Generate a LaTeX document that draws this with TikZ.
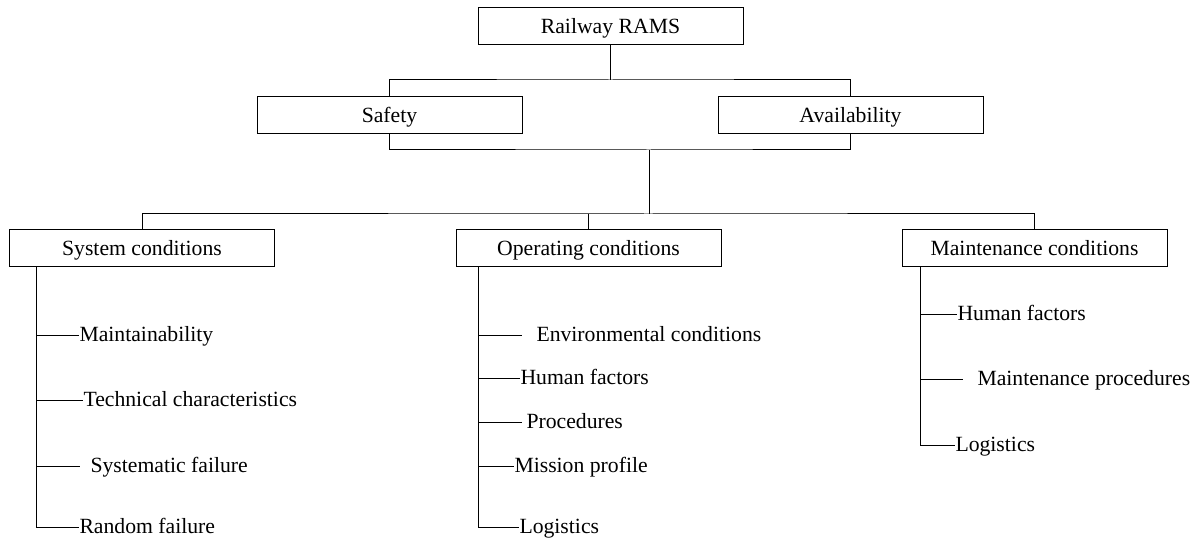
\documentclass[tikz,border=0pt]{standalone}
\usepackage{fontspec}
\setmainfont{Liberation Serif}
\usepackage{tikz}

\begin{document}
\begin{tikzpicture}[x=0.5pt, y=-0.5pt, line width=0.5pt,
    every node/.style={font=\fontsize{10.85pt}{13pt}\selectfont},
    box/.style={draw, minimum width=132.5pt, minimum height=18.5pt, inner sep=0pt,
        text height=7.2pt, text depth=0pt},
    leaf/.style={anchor=west, inner sep=0pt, text height=7.2pt, text depth=1.2pt}]

    \useasboundingbox (0,0) rectangle (1201,539);

    \draw(610.5,26.5) node[box] (rams) {Railway RAMS};
    \draw(389.5,115.5) node[box] (saf) {Safety};
    \draw(850.5,115.5) node[box] (ava) {Availability};

    \draw(142,248.5) node[box] (sys) {System conditions};
    \draw(588.5,248.5) node[box] (ope) {Operating conditions};
    \draw(1034.5,248.5) node[box] (mai) {Maintenance conditions};

    \coordinate (j1) at (610.5,80);
    \coordinate (j2) at (649,150);
    \coordinate (j3) at (649,214);
    \draw (rams.south) -- (j1);
    \draw (saf.north) |- (j1) -| (ava.north);
    \draw (saf.south) |- (j2) -| (ava.south);
    \draw (j2) -- (j3);
    \draw (sys.north) |- (j3) -| (mai.north);
    \draw (ope.north) -- (ope.north |- j3);

    \draw(79,336) node[leaf] (s1) {Maintainability};
    \draw(83,401) node[leaf] (s2) {Technical characteristics};
    \draw(90,467) node[leaf] (s3) {Systematic failure};
    \draw(79,528) node[leaf] (s4) {Random failure};

    \draw(536,336) node[leaf] (o1) {Environmental conditions};
    \draw(520,379) node[leaf] (o2) {Human factors};
    \draw(526,423) node[leaf] (o3) {Procedures};
    \draw(514,467) node[leaf] (o4) {Mission profile};
    \draw(519,528) node[leaf] (o5) {Logistics};

    \draw(957,315) node[leaf] (m1) {Human factors};
    \draw(977,380) node[leaf] (m2) {Maintenance procedures};
    \draw(955,446) node[leaf] (m3) {Logistics};

    \coordinate (st) at (36,267);
    \coordinate (ot) at (478,267);
    \coordinate (mt) at (920,267);
    \draw (st) -- (st |- s4.west);
    \draw (ot) -- (ot |- o5.west);
    \draw (mt) -- (mt |- m3.west);

    \draw (st |- s1.west) -- (s1.west);
    \draw (st |- s2.west) -- (s2.west);
    \draw (st |- s3.west) -- ([xshift=-5pt]s3.west);
    \draw (st |- s4.west) -- (s4.west);

    \draw (ot |- o1.west) -- ([xshift=-7pt]o1.west);
    \draw (ot |- o2.west) -- (o2.west);
    \draw (ot |- o3.west) -- ([xshift=-2pt]o3.west);
    \draw (ot |- o4.west) -- (o4.west);
    \draw (ot |- o5.west) -- (o5.west);

    \draw (mt |- m1.west) -- (m1.west);
    \draw (mt |- m2.west) -- ([xshift=-7pt]m2.west);
    \draw (mt |- m3.west) -- (m3.west);

\end{tikzpicture}
\end{document}
